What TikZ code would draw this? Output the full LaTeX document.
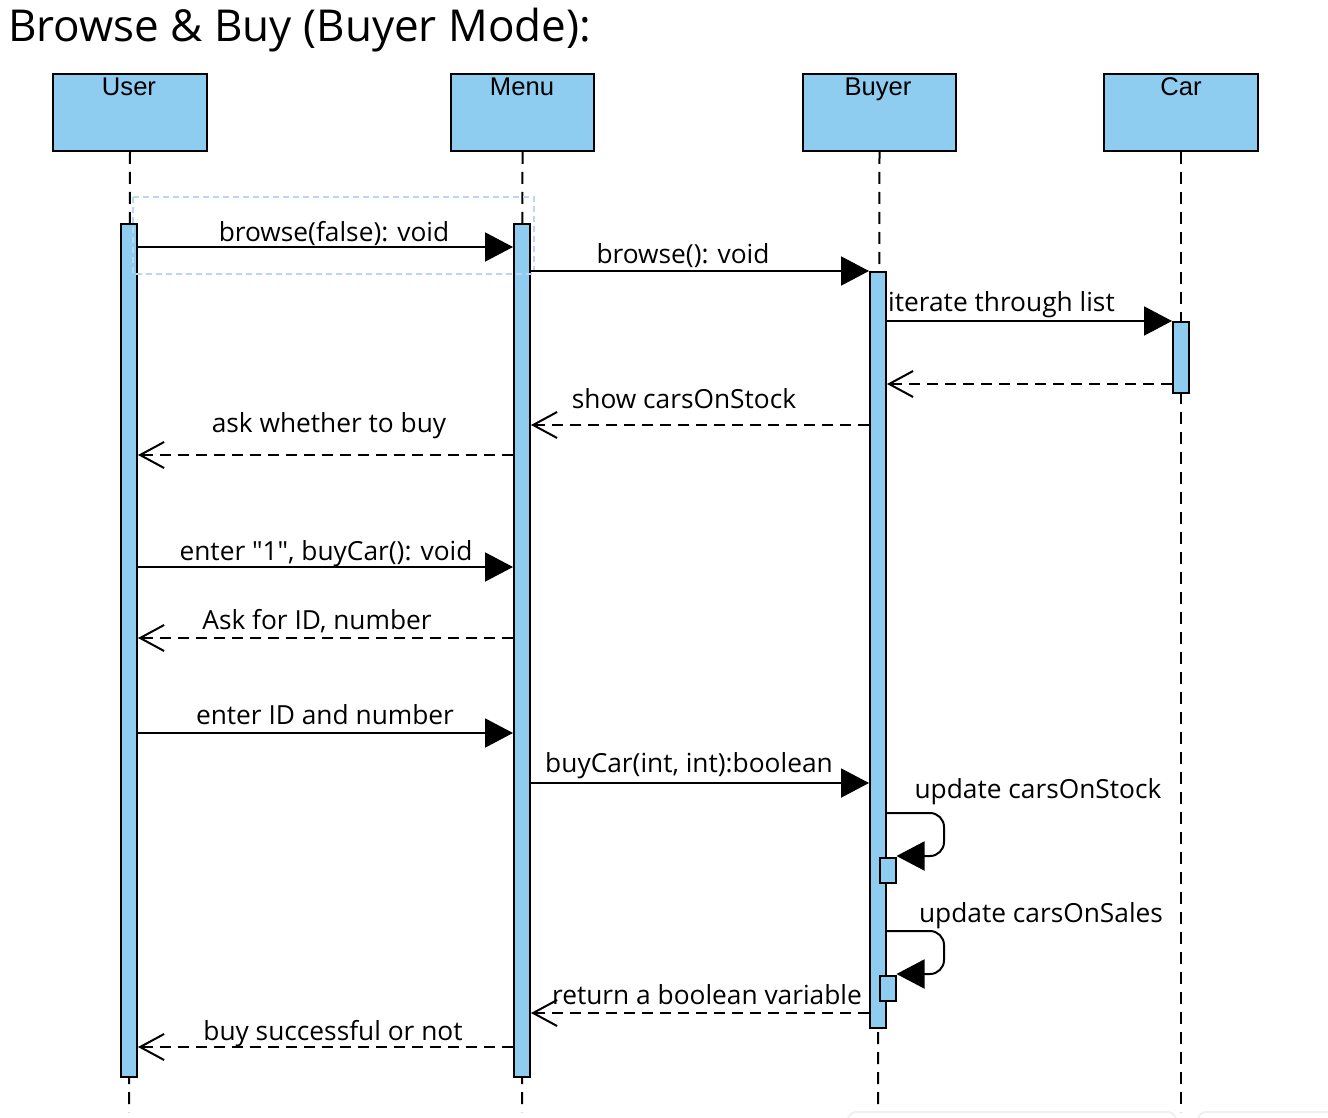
\documentclass[tikz,border=0pt]{standalone}
\usepackage{fontspec}
\setmainfont{Open Sans}[Ligatures=TeXOff]
\newfontfamily\headfont{Liberation Sans}
\usetikzlibrary{arrows.meta}
\definecolor{actblue}{HTML}{8ECCF0}
\definecolor{frameblue}{HTML}{BBD5F5}
\tikzset{
  x=1pt, y=-1pt,
  headbox/.style={draw=black, line width=2pt, fill=actblue, minimum width=#1, minimum height=77pt, anchor=north west, inner sep=0pt},
  headtxt/.style={font=\headfont\fontsize{25.6}{28}\selectfont, anchor=base, inner sep=0pt},
  actbar/.style={draw=black, line width=2pt, fill=actblue, minimum width=16pt, minimum height=#1, anchor=north, inner sep=0pt},
  lifeline/.style={draw=black, line width=2pt, dash pattern=on 12pt off 8pt},
  callmsg/.style={draw=black, line width=2pt, -{Triangle[length=28pt,width=29pt]}},
  retmsg/.style={draw=black, line width=2pt, dash pattern=on 11pt off 7pt, -{Straight Barb[length=24pt,width=26pt,line width=2pt]}},
  selfmsg/.style={draw=black, line width=2pt, rounded corners=14pt, -{Triangle[length=28pt,width=29pt]}},
  msgtxt/.style={font=\fontsize{26.3}{29}\selectfont, anchor=base, inner sep=0pt},
}
\begin{document}
\begin{tikzpicture}
\useasboundingbox (0,0) rectangle (1328,1118);
% title
\node[anchor=base west, inner sep=0pt, font=\fontsize{44}{48}\selectfont] (title) at (8,42) {Browse \& Buy (Buyer Mode):};

% heads
\node[headbox=154pt] (user) at (52,73) {};
\node[headbox=143pt] (menu) at (450,73) {};
\node[headbox=153pt] (buyer) at (802,73) {};
\node[headbox=154pt] (car) at (1103,73) {};
\node[headtxt] (userT) at (129,96) {User};
\node[headtxt] (menuT) at (522,96) {Menu};
\node[headtxt] (buyerT) at (878,96) {Buyer};
\node[headtxt] (carT) at (1181,96) {Car};

% lifeline ends
\coordinate (uend) at (129,1112);
\coordinate (mend) at (522,1112);
\coordinate (bend) at (878,1112);
\coordinate (cend) at (1181,1112);
\draw[lifeline] (user.south) -- (uend);
\draw[lifeline] (menu.south) -- (mend);
\draw[lifeline] (buyer.south) -- (bend);
\draw[lifeline] (car.south) -- (cend);

% faint bottom panels
\draw[gray!12, line width=2pt, rounded corners=8pt] (848,1120) -- (848,1112) -- (1176,1112) -- (1176,1120);
\draw[gray!12, line width=2pt, rounded corners=8pt] (1198,1120) -- (1198,1112) -- (1330,1112);

% activation bars
\node[actbar=853pt] (uact) at (129,223) {};
\node[actbar=853pt] (mact) at (522,223) {};
\node[actbar=756pt] (bact) at (878,271) {};
\node[actbar=71pt] (cact) at (1181,321) {};
\node[actbar=25pt] (s1) at (887.5,857) {};
\node[actbar=25pt] (s2) at (887.5,975) {};

% frame
\draw[frameblue, line width=1.5pt, dash pattern=on 6pt off 4pt] (133,197) rectangle (534,274);

% messages
\draw[callmsg] (uact.east |- 0,247) -- (mact.west |- 0,247);
\node[msgtxt] (l1) at (334,241) {browse(false): void};

\draw[callmsg] (mact.east |- 0,271) -- (bact.west |- 0,271);
\node[msgtxt] (l2) at (683,263) {browse(): void};

\draw[callmsg] (bact.east |- 0,321) -- (cact.west |- 0,321);
\node[msgtxt, anchor=base west] (l3) at (888,311) {iterate through list};

\draw[retmsg] (cact.west |- 0,384) -- (bact.east |- 0,384);

\draw[retmsg] (bact.west |- 0,425) -- (mact.east |- 0,425);
\node[msgtxt] (l4) at (684,408) {show carsOnStock};

\draw[retmsg] (mact.west |- 0,455) -- (uact.east |- 0,455);
\node[msgtxt] (l5) at (329,432) {ask whether to buy};

\draw[callmsg] (uact.east |- 0,567) -- (mact.west |- 0,567);
\node[msgtxt] (l6) at (326,560) {enter "1", buyCar(): void};

\draw[retmsg] (mact.west |- 0,638) -- (uact.east |- 0,638);
\node[msgtxt] (l7) at (317,629) {Ask for ID, number};

\draw[callmsg] (uact.east |- 0,733) -- (mact.west |- 0,733);
\node[msgtxt] (l8) at (325,724) {enter ID and number};

\draw[callmsg] (mact.east |- 0,783) -- (bact.west |- 0,783);
\node[msgtxt] (l9) at (689,772) {buyCar(int, int):boolean};

\draw[selfmsg] (bact.east |- 0,813) -- (944,813) -- (944,856) -- (s1.east |- 0,856);
\node[msgtxt] (l10) at (1038,798) {update carsOnStock};

\draw[selfmsg] (bact.east |- 0,931) -- (944,931) -- (944,974) -- (s2.east |- 0,974);
\node[msgtxt] (l11) at (1041,922) {update carsOnSales};

\draw[retmsg] (bact.west |- 0,1013) -- (mact.east |- 0,1013);
\node[msgtxt] (l12) at (707,1004) {return a boolean variable};

\draw[retmsg] (mact.west |- 0,1047) -- (uact.east |- 0,1047);
\node[msgtxt] (l13) at (333,1040) {buy successful or not};
\end{tikzpicture}
\end{document}
